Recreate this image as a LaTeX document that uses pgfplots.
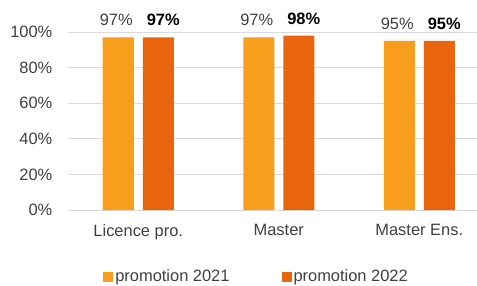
\documentclass[border=0pt]{standalone}
\usepackage{fontspec}
\setmainfont{Liberation Sans}
\usepackage{pgfplots}
\pgfplotsset{compat=1.18}
\definecolor{lightor}{HTML}{F99D1C}
\definecolor{darkor}{HTML}{E8650E}
\definecolor{txt}{HTML}{404040}
\definecolor{gridc}{HTML}{D9D9D9}
\begin{document}
\fontsize{16.5}{19}\selectfont
\begin{tikzpicture}
\begin{axis}[
 scale only axis, width=409bp, height=178bp,
 xmin=-0.5, xmax=2.411, ymin=0, ymax=100,
 ytick={0,20,...,100},
 xtick={0,1,2}, xticklabels={Licence pro., Master, Master Ens.},
 ybar=9bp, bar width=31bp,
 axis line style={draw=none},
 major tick length=0pt,
 ymajorgrids, grid style={gridc, line width=1bp},
 /pgf/number format/assume math mode=true,
 yticklabel={\pgfmathprintnumber{\tick}\%},
 yticklabel style={text=txt, xshift=-10bp},
 xticklabel style={text=txt, yshift=-9bp},
 nodes near coords={\pgfmathprintnumber{\pgfplotspointmeta}\%},
 every node near coord/.append style={anchor=center, yshift=17bp},
 legend style={at={(axis description cs:0.461,-0.376)}, anchor=center, draw=none, fill=none, legend columns=2, /tikz/every even column/.append style={column sep=50bp}, text=txt},
 legend image code/.code={\fill[#1] (0bp,-5bp) rectangle (10bp,5bp);},
]
\addplot[fill=lightor, draw=none, every node near coord/.append style={text=txt, xshift=-2bp}] coordinates {(0,97) (1,97) (2,95)};
\addlegendentry{promotion 2021}
\addplot[fill=darkor, draw=none, every node near coord/.append style={text=black, font=\bfseries, xshift=5bp}] coordinates {(0,97) (1,98) (2,95)};
\addlegendentry{promotion 2022}
\end{axis}
\pgfresetboundingbox
\path ([xshift=-68bp,yshift=-76bp]current axis.south west) rectangle ([yshift=32bp]current axis.north east);
\end{tikzpicture}
\end{document}
